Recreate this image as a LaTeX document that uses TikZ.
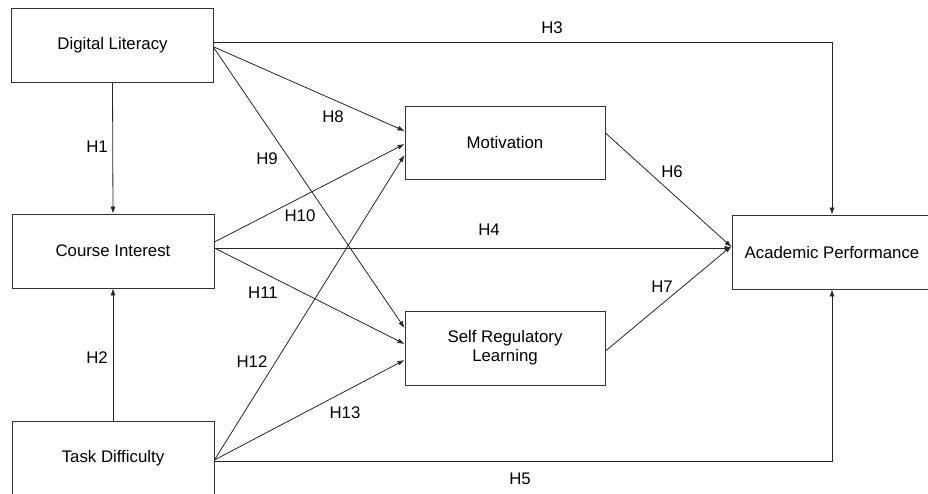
\documentclass[tikz,border=0pt]{standalone}
\usepackage{fontspec}
\setmainfont{Liberation Sans}
\usetikzlibrary{arrows.meta}
\tikzset{
  varbox/.style={draw=black!80, line width=0.9pt, minimum width=202pt, minimum height=74pt, align=center, inner sep=0pt, font=\fontsize{16.8}{19}\selectfont},
  hyp/.style={draw=black!85, line width=0.8pt, -{Latex[length=7pt,width=5pt]}},
  hlabel/.style={inner sep=0pt, font=\fontsize{16.8}{19}\selectfont}
}

\begin{document}
\begin{tikzpicture}[x=1pt,y=-1pt]
			%%%%% START %%%%%
			\useasboundingbox (0,0) rectangle (928,493);
			
			\node[varbox] (dl) at (112.5, 45) {Digital Literacy};
			\node[varbox] (ci) at (113, 251) {Course Interest};
			\node[varbox] (td) at (113, 458) {Task Difficulty};
			
			\node[varbox, minimum width=200pt, minimum height=73pt] (mot) at (505, 142.5) {Motivation};
			\node[varbox, minimum width=200pt] (srl) at (505, 348) {Self Regulatory\\Learning};
			
			\node[varbox, minimum width=200pt] (ap) at (832, 252) {Academic Performance};
			
			\draw[hyp] (dl.south) -- (ci.north);
			\draw[hyp] (td.north) -- (ci.south);
			
			\draw[hyp] ([yshift=3pt]dl.east) -| (ap.north);
			\draw[hyp] ([yshift=3pt]ci.east) -- ([yshift=3pt]ci.east -| ap.west);
			\draw[hyp] ([yshift=-3pt]td.east) -| (ap.south);
			
			\draw[hyp] ([yshift=9.5pt]mot.east) -- ([yshift=5pt]ap.west);
			\draw[hyp] ([yshift=-3pt]srl.east) -- ([yshift=6pt]ap.west);
			
			\draw[hyp] ([yshift=-2pt]dl.east) -- ([yshift=11.5pt]mot.west);
			\draw[hyp] ([yshift=-3pt]dl.east) -- ([yshift=20pt]srl.west);
			\draw[hyp] ([yshift=9pt]ci.east) -- ([yshift=-1.5pt]mot.west);
			\draw[hyp] ([yshift=3pt]ci.east) -- ([yshift=4pt]srl.west);
			\draw[hyp] ([yshift=-2pt]td.east) -- ([yshift=-12.5pt]mot.west);
			\draw[hyp] ([yshift=-2pt]td.east) -- ([yshift=-12pt]srl.west);
			
			\node[hlabel] (h1) at (97, 147) {H1};
			\node[hlabel] (h2) at (97, 358) {H2};
			\node[hlabel] (h3) at (552, 28) {H3};
			\node[hlabel] (h4) at (489, 230) {H4};
			\node[hlabel] (h5) at (520, 479) {H5};
			\node[hlabel] (h6) at (672, 172) {H6};
			\node[hlabel] (h7) at (662, 287) {H7};
			\node[hlabel] (h8) at (333, 117) {H8};
			\node[hlabel] (h9) at (267, 159) {H9};
			\node[hlabel] (h10) at (300, 216) {H10};
			\node[hlabel] (h11) at (263, 293) {H11};
			\node[hlabel] (h12) at (252, 362) {H12};
			\node[hlabel] (h13) at (345, 413) {H13};
			
			%%%%% END %%%%%
\end{tikzpicture}
\end{document}
